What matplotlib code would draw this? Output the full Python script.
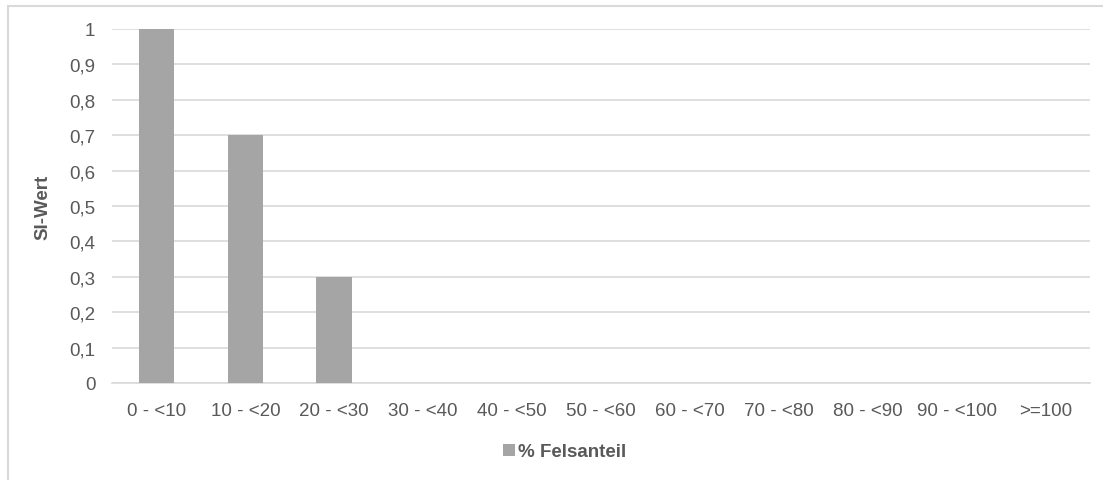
import matplotlib
matplotlib.use("Agg")
import matplotlib.pyplot as plt
from matplotlib.patches import Rectangle
from matplotlib.ticker import FuncFormatter

categories = ['0 - <10', '10 - <20', '20 - <30', '30 - <40', '40 - <50', '50 - <60',
              '60 - <70', '70 - <80', '80 - <90', '90 - <100', '>=100']
si_values = [1.0, 0.7, 0.3, 0, 0, 0, 0, 0, 0, 0, 0]
series_name = '% Felsanteil'

BAR_COLOR = '#A5A5A5'
GRID_COLOR = '#D9D9D9'
TEXT_COLOR = '#595959'
FONT_SIZE = 13.5

plt.rcParams['font.family'] = ['Liberation Sans', 'DejaVu Sans']

fig = plt.figure(figsize=(11.03, 4.81), dpi=100)
ax = fig.add_axes([112 / 1103, 1 - 384 / 481, (1090 - 112) / 1103, (384 - 30) / 481])

x = range(len(categories))
ax.bar(x, si_values, width=0.4, color=BAR_COLOR, label=series_name, zorder=3)
ax.set_xlim(-0.5, len(categories) - 0.5)
ax.set_ylim(0, 1)
ax.set_yticks([i / 10 for i in range(11)])
ax.yaxis.set_major_formatter(FuncFormatter(lambda v, p: ('%g' % round(v, 1)).replace('.', ',')))
ax.set_xticks(list(x))
ax.set_xticklabels(categories)
ax.grid(axis='y', color=GRID_COLOR, linewidth=1.2, zorder=0)
ax.set_axisbelow(True)
for s in ['top', 'right', 'left']:
    ax.spines[s].set_visible(False)
ax.spines['bottom'].set_color(GRID_COLOR)
ax.spines['bottom'].set_linewidth(1.2)
ax.tick_params(length=0, labelsize=FONT_SIZE, colors=TEXT_COLOR)
ax.tick_params(axis='x', pad=14)
ax.tick_params(axis='y', pad=12)
ax.set_ylabel('SI-Wert', fontsize=FONT_SIZE, fontweight='bold', color=TEXT_COLOR, labelpad=13)

leg = fig.legend(loc='center', bbox_to_anchor=(565 / 1103, 1 - 453 / 481), frameon=False,
                 handlelength=0.6, handleheight=0.6, handletextpad=0.2,
                 prop={'size': FONT_SIZE, 'weight': 'bold'})
for t in leg.get_texts():
    t.set_color(TEXT_COLOR)

# chart area border (cropped at right and bottom)
fig.patches.append(Rectangle((8 / 1103, -0.2), 1.2, 1.2 - 7 / 481, transform=fig.transFigure,
                             fill=False, edgecolor=GRID_COLOR, linewidth=1.5))

fig.savefig('out.png', dpi=100)
